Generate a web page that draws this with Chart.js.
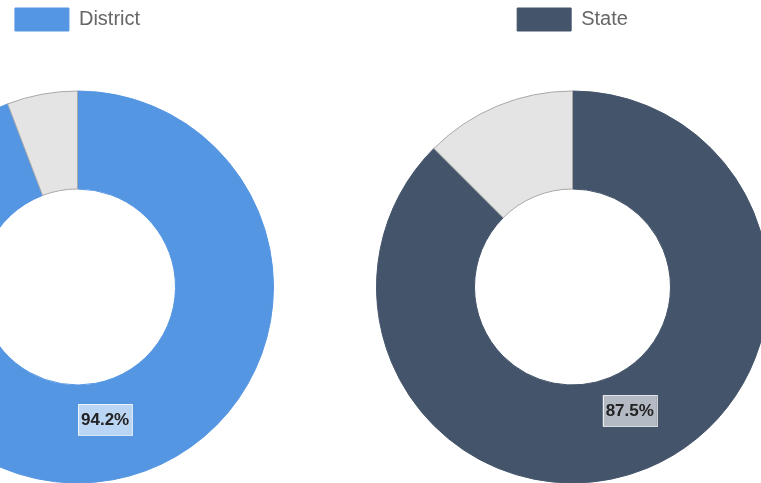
<!DOCTYPE html>
<html>
<head>
<meta charset="utf-8">
<script src="https://cdn.jsdelivr.net/npm/chart.js@4.4.1/dist/chart.umd.min.js"></script>
<style>
  html, body { margin: 0; padding: 0; background: #fff; overflow: hidden; width: 761px; height: 483px; }
  .box { position: absolute; width: 495px; height: 528px; top: -2px; }
  #leftBox { left: -170px; }
  #rightBox { left: 325px; }
</style>
</head>
<body>
<div id="leftBox" class="box"><canvas id="c1"></canvas></div>
<div id="rightBox" class="box"><canvas id="c2"></canvas></div>
<script>
// Data
const seriesNames = ['District', 'State'];
const districtValues = [94.2, 5.8];
const stateValues = [87.5, 12.5];
const districtLabels = ['District', 'Other'];
const stateLabels = ['State', 'Other'];
const mainColors = ['#5596e3', '#44546a'];
const restColor = '#e4e4e4';
const restBorder = '#a8a8a8';

const legendHeightPlugin = {
  id: 'legendHeight',
  beforeInit(chart) {
    if (chart.legend) {
      const orig = chart.legend.fit;
      chart.legend.fit = function () {
        orig.bind(chart.legend)();
        this.height = 50;
      };
    }
  }
};

const valueLabelPlugin = {
  id: 'valueLabel',
  afterDatasetsDraw(chart) {
    const ctx = chart.ctx;
    const meta = chart.getDatasetMeta(0);
    const arc = meta.data[0];
    const pos = arc.tooltipPosition();
    const v = chart.data.datasets[0].data[0];
    const txt = v.toFixed(1) + '%';
    ctx.save();
    ctx.font = 'bold 17px "Liberation Sans", Arial, sans-serif';
    const w = ctx.measureText(txt).width + 6;
    const h = 31;
    const cx = pos.x + 1;
    const cy = pos.y - 12;
    ctx.fillStyle = 'rgba(255,255,255,0.6)';
    ctx.fillRect(cx - w / 2, cy - h / 2, w, h);
    ctx.strokeStyle = 'rgba(255,255,255,0.75)';
    ctx.lineWidth = 1;
    ctx.strokeRect(Math.round(cx - w / 2) + 0.5, Math.round(cy - h / 2) + 0.5, Math.round(w), h);
    ctx.fillStyle = '#222';
    ctx.textAlign = 'center';
    ctx.textBaseline = 'middle';
    ctx.fillText(txt, cx, cy + 1);
    ctx.restore();
  }
};

function makeChart(id, labels, values, color) {
  return new Chart(document.getElementById(id), {
    type: 'doughnut',
    data: {
      labels: labels,
      datasets: [{
        data: values,
        backgroundColor: [color, restColor],
        borderColor: [color, restBorder],
        borderWidth: 1
      }]
    },
    options: {
      responsive: true,
      maintainAspectRatio: false,
      animation: false,
      radius: 196,
      cutout: '50%',
      layout: { padding: 0 },
      plugins: {
        legend: {
          position: 'top',
          labels: {
            boxWidth: 54,
            boxHeight: 23,
            padding: 10,
            color: '#666',
            font: { size: 20, family: '"Liberation Sans", Arial, sans-serif' },
            filter: (item) => item.index === 0
          }
        },
        tooltip: { enabled: false }
      }
    },
    plugins: [legendHeightPlugin, valueLabelPlugin]
  });
}

makeChart('c1', districtLabels, districtValues, mainColors[0]);
makeChart('c2', stateLabels, stateValues, mainColors[1]);
</script>
</body>
</html>
